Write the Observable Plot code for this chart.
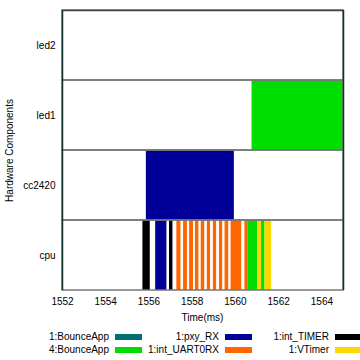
<!DOCTYPE html>
<html>
<head>
<meta charset="utf-8">
<script src="https://cdn.jsdelivr.net/npm/d3@7"></script>
<script src="https://cdn.jsdelivr.net/npm/@observablehq/plot@0.6"></script>
<style>
  body { margin: 0; background: #fff; font-family: "Liberation Sans", Arial, sans-serif; }
  #xlabel { margin-left: 62px; width: 281px; height: 24px; line-height: 24px; text-align: center; font-size: 10px; color: #000; }
  #legend { display: grid; grid-template-columns: 110px 110px 110px; padding-left: 32px; font-size: 10px; color: #000; }
  .item { display: flex; justify-content: flex-end; align-items: center; height: 13px; white-space: nowrap; }
  .sw { width: 27px; height: 6px; margin-left: 6px; flex: none; }
</style>
</head>
<body>
<div id="chart"></div>
<div id="xlabel">Time(ms)</div>
<div id="legend"></div>
<script>
const rows = ["led2", "led1", "cc2420", "cpu"];
const processes = ["1:BounceApp", "1:pxy_RX", "1:int_TIMER", "4:BounceApp", "1:int_UART0RX", "1:VTimer"];
const colors = ["#006f6f", "#000099", "#000000", "#00dd00", "#ff6600", "#ffd700"];
const xTicks = [1552, 1554, 1556, 1558, 1560, 1562, 1564];

const evRow = ["cc2420", "led1",
  "cpu", "cpu", "cpu",
  "cpu", "cpu", "cpu", "cpu", "cpu", "cpu", "cpu", "cpu", "cpu",
  "cpu", "cpu", "cpu", "cpu", "cpu", "cpu"];
const evProc = ["1:pxy_RX", "4:BounceApp",
  "1:int_TIMER", "1:pxy_RX", "1:int_TIMER",
  "1:int_UART0RX", "1:int_UART0RX", "1:int_UART0RX", "1:int_UART0RX", "1:int_UART0RX",
  "1:int_UART0RX", "1:int_UART0RX", "1:int_UART0RX", "1:int_UART0RX",
  "1:int_UART0RX", "1:int_UART0RX", "4:BounceApp", "1:VTimer", "4:BounceApp", "1:VTimer"];
const evStart = [1555.88, 1560.77,
  1555.72, 1556.31, 1556.95,
  1557.29, 1557.60, 1557.88, 1558.15, 1558.42, 1558.70, 1558.98, 1559.26, 1559.52,
  1559.80, 1560.44, 1560.57, 1561.03, 1561.21, 1561.37];
const evEnd = [1559.95, 1565.0,
  1556.06, 1556.83, 1557.11,
  1557.48, 1557.78, 1558.06, 1558.31, 1558.58, 1558.85, 1559.13, 1559.41, 1559.69,
  1560.29, 1560.57, 1561.03, 1561.21, 1561.37, 1561.68];

const events = evRow.map((r, i) => ({row: r, proc: evProc[i], start: evStart[i], end: evEnd[i]}));
const x0 = 1552, x1 = 1565;

const chart = Plot.plot({
  width: 360,
  height: 306,
  marginLeft: 62,
  marginRight: 17,
  marginTop: 10,
  marginBottom: 16,
  style: {fontFamily: "'Liberation Sans', Arial, sans-serif", fontSize: "10px", background: "#fff", color: "#000"},
  x: {domain: [x0, x1], ticks: xTicks, tickFormat: d => String(d), tickSize: 0, tickPadding: 7, label: null},
  y: {domain: rows, padding: 0, tickSize: 0, tickPadding: 7, label: null},
  color: {domain: processes, range: colors},
  marks: [
    Plot.barX(events, {y: "row", x1: "start", x2: "end", fill: "proc"}),
    Plot.barX(rows, {y: d => d, x1: () => x0, x2: () => x1, fill: "none", stroke: "#777", strokeWidth: 1.5}),
    Plot.ruleY([0], {y: () => "led2", stroke: "#444", strokeWidth: 1.5, dy: -35}),
    Plot.ruleX([x0, x1], {stroke: "#10332b", strokeWidth: 1.5}),
    Plot.text(["Hardware Components"], {frameAnchor: "left", textAnchor: "middle", lineAnchor: "middle", dx: -53, rotate: -90, fontSize: 10, fill: "#000"})
  ]
});
document.getElementById("chart").appendChild(chart);

const legend = document.getElementById("legend");
processes.forEach((p, i) => {
  const item = document.createElement("div");
  item.className = "item";
  const lab = document.createElement("span");
  lab.textContent = p;
  const sw = document.createElement("span");
  sw.className = "sw";
  sw.style.background = colors[i];
  item.appendChild(lab);
  item.appendChild(sw);
  legend.appendChild(item);
});
</script>
</body>
</html>
